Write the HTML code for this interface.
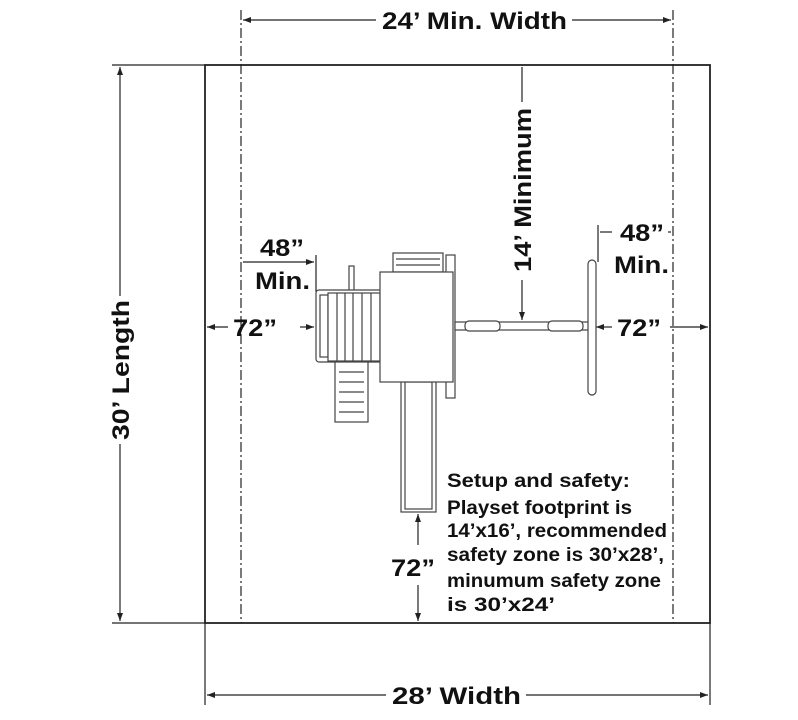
<!DOCTYPE html>
<html><head><meta charset="utf-8"><style>
html,body{margin:0;padding:0;background:#fff}
svg text{font-family:"Liberation Sans",sans-serif;font-weight:bold;fill:#111}
</style></head><body>
<svg width="798" height="715" viewBox="0 0 798 715" xmlns="http://www.w3.org/2000/svg">
<defs>
<marker id="a" markerWidth="8" markerHeight="6" refX="8" refY="3" orient="auto" markerUnits="userSpaceOnUse"><path d="M0,0 L8,3 L0,6 Z" fill="#222"/></marker>
</defs>
<g stroke="#222" fill="none" stroke-width="1.2">
<rect x="205" y="65" width="505" height="558" stroke-width="1.8"/>
<line x1="241" y1="10" x2="241" y2="623" stroke-dasharray="10,3,2,3"/>
<line x1="673" y1="10" x2="673" y2="623" stroke-dasharray="10,3,2,3"/>
<line x1="376" y1="20" x2="243" y2="20" marker-end="url(#a)"/>
<line x1="572" y1="20" x2="671" y2="20" marker-end="url(#a)"/>
<line x1="205" y1="623" x2="205" y2="705"/>
<line x1="710" y1="623" x2="710" y2="705"/>
<line x1="386" y1="695" x2="207" y2="695" marker-end="url(#a)"/>
<line x1="526" y1="695" x2="708" y2="695" marker-end="url(#a)"/>
<line x1="112" y1="65" x2="205" y2="65"/>
<line x1="112" y1="623" x2="205" y2="623"/>
<line x1="120" y1="296" x2="120" y2="67" marker-end="url(#a)"/>
<line x1="120" y1="444" x2="120" y2="621" marker-end="url(#a)"/>
<line x1="522" y1="67" x2="522" y2="102"/>
<line x1="522" y1="280" x2="522" y2="320" marker-end="url(#a)"/>
<line x1="316" y1="255" x2="316" y2="292"/>
<line x1="243" y1="262" x2="314" y2="262" marker-end="url(#a)"/>
<line x1="228" y1="327" x2="207" y2="327" marker-end="url(#a)"/>
<line x1="300" y1="327" x2="314" y2="327" marker-end="url(#a)"/>
<line x1="598" y1="225" x2="598" y2="262"/>
<line x1="600" y1="232" x2="612" y2="232"/>
<line x1="668" y1="232" x2="671" y2="232"/>
<line x1="612" y1="327" x2="596" y2="327" marker-end="url(#a)"/>
<line x1="670" y1="327" x2="708" y2="327" marker-end="url(#a)"/>
<line x1="418" y1="545" x2="418" y2="514" marker-end="url(#a)"/>
<line x1="418" y1="585" x2="418" y2="621" marker-end="url(#a)"/>
</g>
<g stroke="#444" fill="#fff" stroke-width="1.2">
<rect x="393" y="253" width="50" height="19"/>
<line x1="396" y1="259" x2="440" y2="259"/><line x1="396" y1="265" x2="440" y2="265"/>
<rect x="446" y="255" width="9" height="143"/>
<rect x="349" y="266" width="5" height="26"/>
<rect x="316" y="290" width="66" height="72" rx="3"/>
<rect x="320" y="295" width="8" height="62"/>
<rect x="328" y="293" width="52" height="68"/>
<line x1="337" y1="293" x2="337" y2="361"/><line x1="345" y1="293" x2="345" y2="361"/><line x1="353" y1="293" x2="353" y2="361"/><line x1="362" y1="293" x2="362" y2="361"/><line x1="371" y1="293" x2="371" y2="361"/>
<rect x="335" y="362" width="33" height="60"/>
<line x1="339" y1="372" x2="364" y2="372"/><line x1="339" y1="382" x2="364" y2="382"/><line x1="339" y1="392" x2="364" y2="392"/><line x1="339" y1="402" x2="364" y2="402"/><line x1="339" y1="412" x2="364" y2="412"/>
<rect x="401" y="380" width="35" height="132"/>
<rect x="405" y="382" width="27" height="127"/>
<rect x="380" y="272" width="73" height="110"/>
<rect x="455" y="322" width="135" height="8"/>
<rect x="465" y="321" width="35" height="10" rx="4"/>
<rect x="548" y="321" width="35" height="10" rx="4"/>
<rect x="588" y="260" width="8" height="135" rx="4"/>
</g>
<text x="382" y="29" font-size="24" textLength="185" lengthAdjust="spacingAndGlyphs">24’ Min. Width</text>
<text x="392" y="704" font-size="24" textLength="129" lengthAdjust="spacingAndGlyphs">28’ Width</text>
<text transform="translate(129,440) rotate(-90)" font-size="24" textLength="140" lengthAdjust="spacingAndGlyphs">30’ Length</text>
<text transform="translate(531,272) rotate(-90)" font-size="24" textLength="164" lengthAdjust="spacingAndGlyphs">14’ Minimum</text>
<text x="260" y="256" font-size="24" textLength="44" lengthAdjust="spacingAndGlyphs">48”</text>
<text x="255" y="289" font-size="24" textLength="55" lengthAdjust="spacingAndGlyphs">Min.</text>
<text x="233" y="336" font-size="24" textLength="44" lengthAdjust="spacingAndGlyphs">72”</text>
<text x="620" y="241" font-size="24" textLength="44" lengthAdjust="spacingAndGlyphs">48”</text>
<text x="614" y="273" font-size="24" textLength="55" lengthAdjust="spacingAndGlyphs">Min.</text>
<text x="617" y="336" font-size="24" textLength="44" lengthAdjust="spacingAndGlyphs">72”</text>
<text x="391" y="576" font-size="24" textLength="44" lengthAdjust="spacingAndGlyphs">72”</text>
<g font-size="19">
<text x="447" y="487" textLength="183" lengthAdjust="spacingAndGlyphs">Setup and safety:</text>
<text x="447" y="514" textLength="185" lengthAdjust="spacingAndGlyphs">Playset footprint is</text>
<text x="447" y="537" textLength="220" lengthAdjust="spacingAndGlyphs">14’x16’, recommended</text>
<text x="447" y="561" textLength="217" lengthAdjust="spacingAndGlyphs">safety zone is 30’x28’,</text>
<text x="447" y="587" textLength="214" lengthAdjust="spacingAndGlyphs">minumum safety zone</text>
<text x="447" y="611" textLength="108" lengthAdjust="spacingAndGlyphs">is 30’x24’</text>
</g>
</svg>
</body></html>
